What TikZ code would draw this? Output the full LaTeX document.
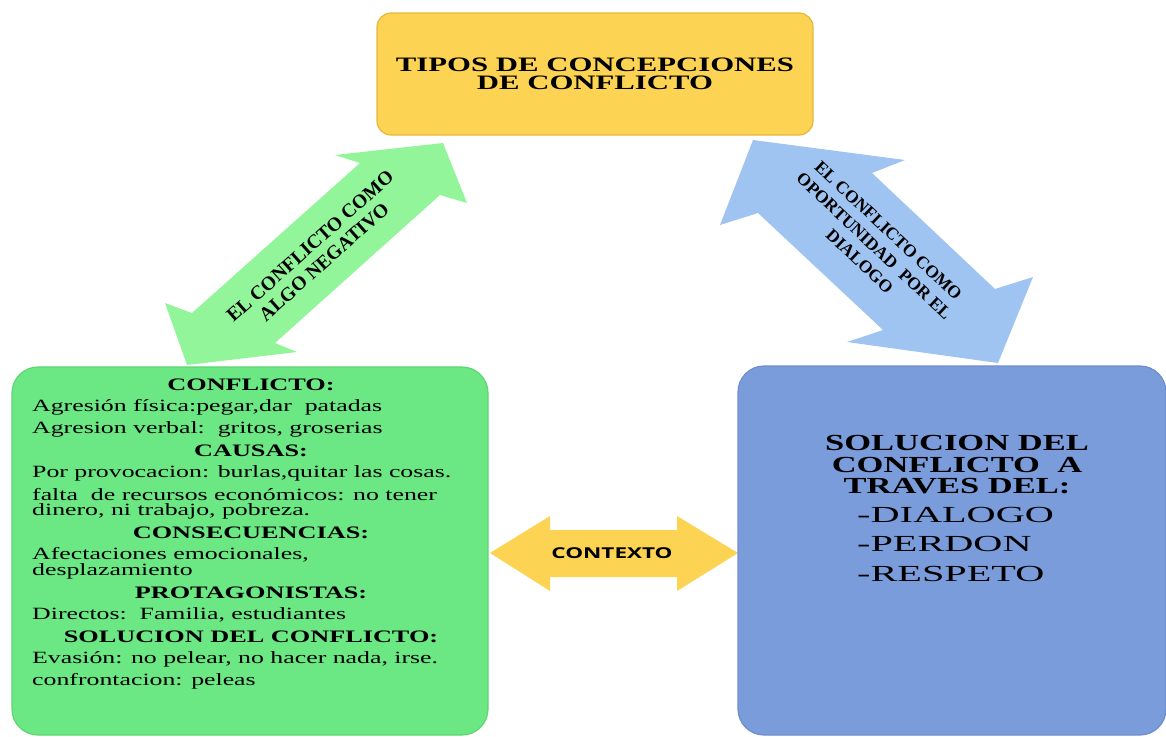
\documentclass[tikz,border=0pt]{standalone}
\usepackage{fontspec}
\newfontfamily\wideserif[FakeStretch=1.5]{Liberation Serif}
\newfontfamily\widerserif[FakeStretch=1.75]{Liberation Serif}
\newfontfamily\arrowserif{Liberation Serif}
\newfontfamily\widesans[FakeStretch=1.5]{Open Sans}
\usetikzlibrary{arrows,shapes}
\definecolor{gold}{HTML}{FCD353}
\definecolor{goldedge}{HTML}{E6B73C}
\definecolor{leafgreen}{HTML}{6BE783}
\definecolor{leafedge}{HTML}{5CD673}
\definecolor{mintgreen}{HTML}{93F59A}
\definecolor{skyblue}{HTML}{9FC4F1}
\definecolor{slateblue}{HTML}{7A9CDB}
\definecolor{slateedge}{HTML}{6E8DCC}
\tikzstyle{panel}=[rectangle,rounded corners=26pt,line width=1.2pt,inner sep=0pt]
\tikzstyle{bodyline}=[anchor=west,inner sep=0pt,font=\wideserif\fontsize{17.2}{20}\selectfont]
\tikzstyle{heading}=[inner sep=0pt,font=\wideserif\bfseries\fontsize{17.5}{20}\selectfont]
\tikzstyle{arrowlabel}=[inner sep=0pt,align=center,font=\arrowserif\bfseries]
\tikzstyle{blockarrow}=[line join=miter]

\begin{document}
\begin{tikzpicture}[x=1pt,y=-1pt]
    \useasboundingbox (0,0) rectangle (1166,736);
    % First we draw the block arrows
    \path[blockarrow,fill=mintgreen] (187,365) -- (165,303) -- (192,313) -- (360,163) -- (335,155)
        -- (443,143) -- (467,203) -- (440,195) -- (275,343) -- (297,352) -- cycle;
    \path[blockarrow,fill=skyblue] (753,140) -- (905,160) -- (872,173) -- (995,289) -- (1033,277)
        -- (998,363) -- (847,342) -- (883,330) -- (758,213) -- (720,225) -- cycle;
    \path[blockarrow,fill=gold] (490,553) -- (550,516) -- (550,530) -- (677,530) -- (677,516)
        -- (738,553) -- (677,591) -- (677,577) -- (550,577) -- (550,591) -- cycle;
    % Then the three boxes
    \node[panel,rounded corners=14pt,fill=gold,draw=goldedge,minimum width=436pt,minimum height=122pt,
        align=center,font=\wideserif\bfseries\fontsize{20.5}{18.5}\selectfont] (tipos) at (595,74)
        {TIPOS DE CONCEPCIONES\\DE CONFLICTO};
    \node[panel,fill=leafgreen,draw=leafedge,minimum width=476pt,minimum height=368pt] (negativo) at (250,551) {};
    \node[panel,fill=slateblue,draw=slateedge,minimum width=428pt,minimum height=369pt] (dialogo) at (952,550.5) {};
    % Labels on the arrows
    \node[arrowlabel,rotate=41.8,font=\arrowserif\bfseries\fontsize{19.5}{21}\selectfont] (algo) at (317,254)
        {EL CONFLICTO COMO\\ALGO NEGATIVO};
    \node[arrowlabel,rotate=-43.2,font=\arrowserif\bfseries\fontsize{17.5}{21}\selectfont] (oportunidad) at (874,246)
        {EL CONFLICTO COMO\\OPORTUNIDAD~~POR EL\\DIALOGO};
    \node[inner sep=0pt,font=\widesans\bfseries\fontsize{15}{15}\selectfont] (contexto) at (612,553) {CONTEXTO};
    % Text of the left box
    \foreach \y/\txt in {385/{CONFLICTO:}, 451/{CAUSAS:}, 533/{CONSECUENCIAS:},
        593/{PROTAGONISTAS:}, 637/{SOLUCION DEL CONFLICTO:}}
        \node[heading] at (251,\y) {\txt};
    \foreach \y/\txt in {407/{Agresión física:pegar,dar~~patadas}, 429/{Agresion verbal:~~gritos, groserias},
        473/{Por provocacion: burlas,quitar las cosas.}, 495/{falta~~de recursos económicos: no tener},
        511/{dinero, ni trabajo, pobreza.}, 555/{Afectaciones emocionales,}, 571/{desplazamiento},
        615/{Directos:~~Familia, estudiantes}, 659/{Evasión: no pelear, no hacer nada, irse.},
        681/{confrontacion: peleas}}
        \node[bodyline] at (32,\y) {\txt};
    % Text of the right box
    \node[inner sep=0pt,align=center,font=\wideserif\bfseries\fontsize{23}{21.5}\selectfont] (solucion) at (957,465)
        {SOLUCION DEL\\CONFLICTO~~A\\TRAVES DEL:};
    \node[inner sep=0pt,anchor=west,align=left,font=\widerserif\fontsize{23}{29.5}\selectfont] (valores) at (857,544)
        {-DIALOGO\\-PERDON\\-RESPETO};
\end{tikzpicture}
\end{document}
